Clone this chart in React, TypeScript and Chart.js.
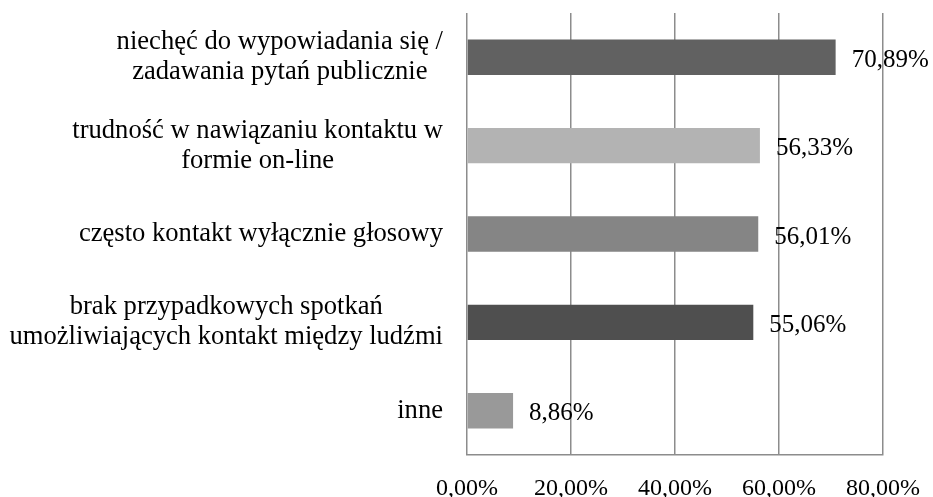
import React, { useEffect, useRef } from "react";
import { Chart, registerables } from "chart.js";

Chart.register(...registerables);

const categories: string[][] = [
  ["niechęć do wypowiadania się /", "zadawania pytań publicznie"],
  ["trudność w nawiązaniu kontaktu w", "formie on-line"],
  ["często kontakt wyłącznie głosowy"],
  ["brak przypadkowych spotkań", "umożliwiających kontakt między ludźmi"],
  ["inne"],
];
const values: number[] = [70.89, 56.33, 56.01, 55.06, 8.86];
const barColors: string[] = ["#616161", "#b3b3b3", "#858585", "#4f4f4f", "#999999"];
const xTicks: number[] = [0, 20, 40, 60, 80];

const FONT = "'Liberation Serif', 'Times New Roman', serif";

const fmt = (v: number) => v.toFixed(2).replace(".", ",") + "%";

const labelPlugin = {
  id: "customLabels",
  afterDraw(chart: any) {
    const ctx = chart.ctx;
    const yScale = chart.scales.y;
    const area = chart.chartArea;
    ctx.save();
    ctx.fillStyle = "#000";
    // category labels: block right-aligned, lines centered
    ctx.font = `26.6px ${FONT}`;
    const lh = 30;
    categories.forEach((lines, i) => {
      const y = yScale.getPixelForValue(i);
      const widest = Math.max(...lines.map((l) => ctx.measureText(l).width));
      const cx = area.left - 24 - widest / 2;
      ctx.textAlign = "center";
      ctx.textBaseline = "middle";
      lines.forEach((l, j) => {
        ctx.fillText(l, cx, y + (j - (lines.length - 1) / 2) * lh);
      });
    });
    // value labels
    ctx.font = `25px ${FONT}`;
    ctx.textAlign = "left";
    ctx.textBaseline = "middle";
    const meta = chart.getDatasetMeta(0);
    meta.data.forEach((bar: any, i: number) => {
      ctx.fillText(fmt(values[i]), bar.x + 16, bar.y + 3);
    });
    ctx.restore();
  },
};

export default function App() {
  const ref = useRef<HTMLCanvasElement | null>(null);
  useEffect(() => {
    if (!ref.current) return;
    const chart = new Chart(ref.current, {
      type: "bar",
      data: {
        labels: categories.map((c) => c.join(" ")),
        datasets: [
          {
            data: values,
            backgroundColor: barColors,
            barPercentage: 0.4,
            categoryPercentage: 1,
          },
        ],
      },
      options: {
        indexAxis: "y",
        animation: false,
        responsive: true,
        maintainAspectRatio: false,
        layout: { padding: { top: 13, right: 50, left: 0, bottom: 0 } },
        plugins: { legend: { display: false }, tooltip: { enabled: false } },
        scales: {
          x: {
            min: 0,
            max: 80,
            afterBuildTicks: (scale: any) => {
              scale.ticks = xTicks.map((v) => ({ value: v }));
            },
            afterFit: (scale: any) => {
              scale.height = 42;
              scale.paddingLeft = 0;
              scale.paddingRight = 0;
            },
            grid: { color: "#8c8c8c", lineWidth: 1.5, drawTicks: false },
            border: { display: true, color: "#8c8c8c", width: 1.5 },
            ticks: {
              padding: 19,
              color: "#000",
              font: { family: FONT, size: 24 },
              callback: (v: any) => fmt(Number(v)),
              maxRotation: 0,
            },
          },
          y: {
            grid: { display: false },
            border: { display: false },
            ticks: { display: false },
            afterFit: (scale: any) => {
              scale.width = 467;
            },
          },
        },
      },
      plugins: [labelPlugin],
    });
    return () => chart.destroy();
  }, []);
  return (
    <div style={{ position: "fixed", left: 0, top: 0, width: 933, height: 497, background: "#fff" }}>
      <canvas ref={ref} />
    </div>
  );
}
